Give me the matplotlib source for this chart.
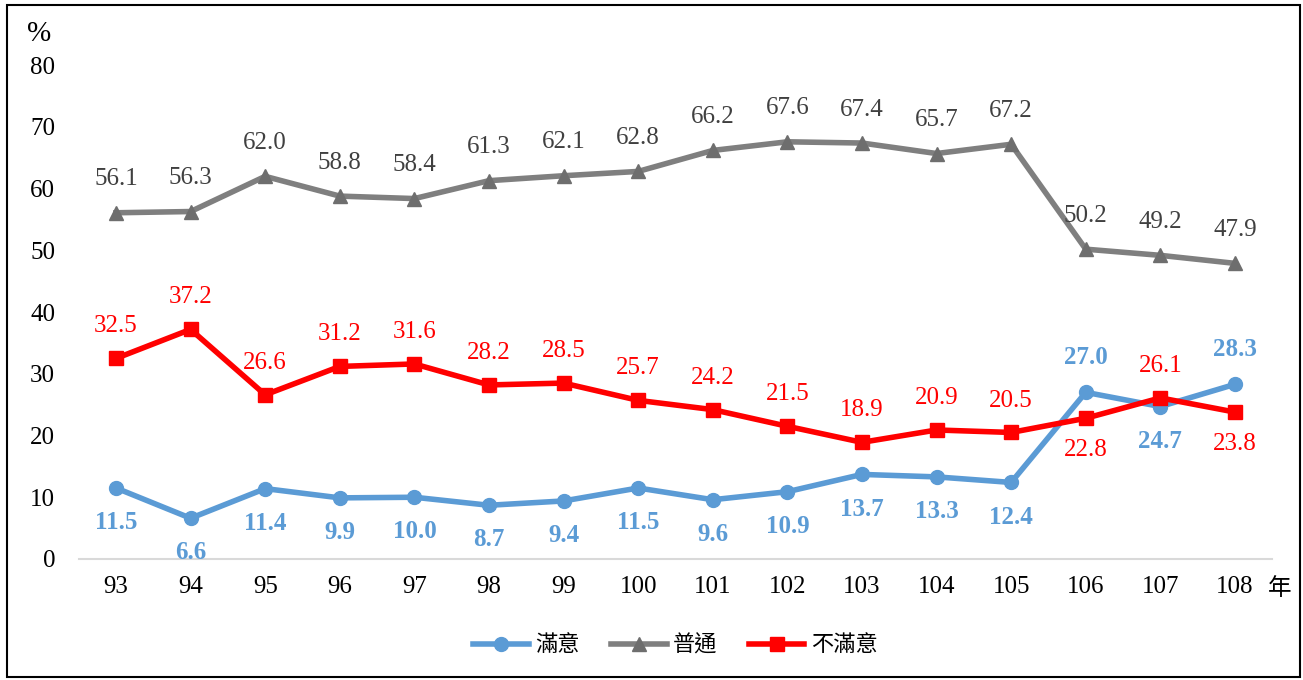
import matplotlib.pyplot as plt
from matplotlib.patches import Rectangle

years = ["93", "94", "95", "96", "97", "98", "99", "100", "101", "102",
         "103", "104", "105", "106", "107", "108"]
satisfied = [11.5, 6.6, 11.4, 9.9, 10.0, 8.7, 9.4, 11.5, 9.6, 10.9,
             13.7, 13.3, 12.4, 27.0, 24.7, 28.3]
neutral = [56.1, 56.3, 62.0, 58.8, 58.4, 61.3, 62.1, 62.8, 66.2, 67.6,
           67.4, 65.7, 67.2, 50.2, 49.2, 47.9]
unsatisfied = [32.5, 37.2, 26.6, 31.2, 31.6, 28.2, 28.5, 25.7, 24.2, 21.5,
               18.9, 20.9, 20.5, 22.8, 26.1, 23.8]

# which labels sit above (+1) or below (-1) the point
blue_side = [-1] * 13 + [1, -1, 1]
red_side = [1] * 13 + [-1, 1, -1]

serif = "Liberation Serif"
cjk = ["Noto Sans CJK TC", "DejaVu Sans"]

fig = plt.figure(figsize=(13.03, 6.8), dpi=100)
ax = fig.add_axes([0.0604, 0.178, 0.916, 0.726])

x = list(range(len(years)))
blue, gray, red = "#5b9bd5", "#7f7f7f", "#ff0000"

ax.plot(x, satisfied, color=blue, lw=4, marker="o", ms=10, label="滿意")
ax.plot(x, neutral, color=gray, lw=4, marker="^", ms=10,
        mfc="#6e6e6e", mec="#6e6e6e", label="普通")
ax.plot(x, unsatisfied, color=red, lw=4, marker="s", ms=10, label="不滿意")

for i in x:
    ax.annotate(f"{neutral[i]:.1f}", (i, neutral[i]), xytext=(0, 24),
                textcoords="offset points", ha="center", va="center",
                fontsize=18, family=serif, color="#404040")
    ax.annotate(f"{unsatisfied[i]:.1f}", (i, unsatisfied[i]),
                xytext=(0, 23 * red_side[i]), textcoords="offset points",
                ha="center", va="center", fontsize=18, family=serif, color=red)
    ax.annotate(f"{satisfied[i]:.1f}", (i, satisfied[i]),
                xytext=(0, 25 * blue_side[i]), textcoords="offset points",
                ha="center", va="center", fontsize=18, family=serif,
                color=blue, fontweight="bold")

ax.set_xlim(-0.5, len(years) - 0.5)
ax.set_ylim(0, 80)
ax.set_yticks(range(0, 81, 10))
ax.set_xticks(x)
ax.set_xticklabels(years)
for lab in ax.get_xticklabels() + ax.get_yticklabels():
    lab.set_family(serif)
    lab.set_fontsize(18)
ax.tick_params(length=0)
ax.tick_params(axis="x", pad=12)
ax.tick_params(axis="y", pad=17)
for s in ["top", "right", "left"]:
    ax.spines[s].set_visible(False)
ax.spines["bottom"].set_color("#d9d9d9")
ax.spines["bottom"].set_linewidth(1.5)

fig.text(0.030, 0.950, "%", fontsize=21, family=serif, ha="center", va="center")
fig.text(0.982, 0.135, "年", fontsize=17, family=cjk, ha="center", va="center")

leg = ax.legend(loc="center", bbox_to_anchor=(0.5, -0.174), ncol=3, frameon=False,
                prop={"family": cjk, "size": 16}, handlelength=2.5,
                columnspacing=1.4, handletextpad=0.3)

fig.patches.append(Rectangle((0.005, 0.005), 0.993, 0.988, transform=fig.transFigure,
                             fill=False, edgecolor="black", lw=1.5))

fig.savefig("out.png", dpi=100)
